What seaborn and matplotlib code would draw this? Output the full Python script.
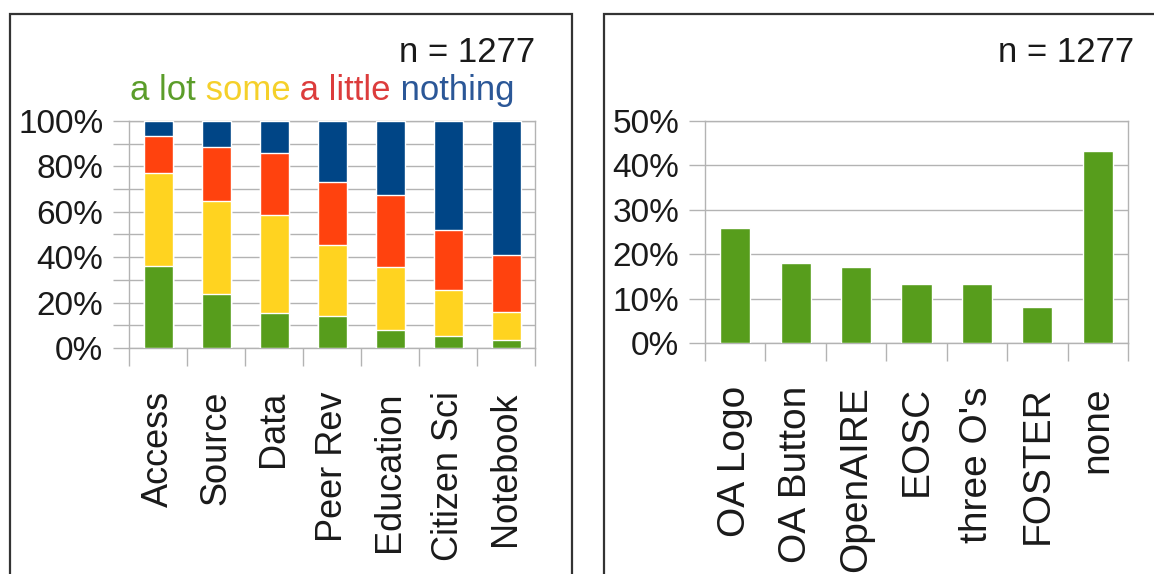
import numpy as np
import pandas as pd
import seaborn as sns
import matplotlib.pyplot as plt
from matplotlib.patches import Rectangle
from matplotlib.ticker import FixedLocator, PercentFormatter

# left chart: share of answers per topic (stacked)
topics = ["Access", "Source", "Data", "Peer Rev", "Education", "Citizen Sci", "Notebook"]
a_lot = [36.0, 23.8, 15.4, 14.2, 8.1, 5.1, 3.4]
some = [41.0, 41.0, 43.3, 31.0, 27.8, 20.3, 12.4]
a_little = [16.4, 23.9, 27.1, 28.1, 31.5, 26.6, 25.2]
nothing = [6.6, 11.3, 14.2, 26.7, 32.6, 48.0, 59.0]
answer_names = ["a lot", "some", "a little", "nothing"]

# right chart: known initiatives
initiatives = ["OA Logo", "OA Button", "OpenAIRE", "EOSC", "three O's", "FOSTER", "none"]
known = [26.0, 18.1, 17.2, 13.3, 13.3, 8.2, 43.3]

n_text = "n = 1277"

bar_colors = ["#579d1c", "#ffd320", "#ff420e", "#004586"]
word_colors = ["#5b9d2a", "#f5d02a", "#dc3c3c", "#2b5797"]
grid_col = "#b3b3b3"
txt_col = "#1a1a1a"

sns.set_style("white")
plt.rcParams["font.family"] = ["Liberation Sans", "DejaVu Sans"]
plt.rcParams["text.color"] = txt_col
plt.rcParams["xtick.labelcolor"] = txt_col
plt.rcParams["ytick.labelcolor"] = txt_col

W, H = 1154, 574
fig = plt.figure(figsize=(W / 100, H / 100), dpi=100)

ax1 = fig.add_axes([129 / W, 1 - 348 / H, 406 / W, 227 / H])
ax2 = fig.add_axes([705 / W, 1 - 343 / H, 423 / W, 222 / H])

# stacked bars: draw cumulative totals from the top segment down
df = pd.DataFrame({"topic": topics, "a lot": a_lot, "some": some,
                   "a little": a_little, "nothing": nothing})
cum = df[answer_names].cumsum(axis=1) / 100.0
for name, col in reversed(list(zip(answer_names, bar_colors))):
    sns.barplot(x=df["topic"], y=cum[name], color=col, width=0.5,
                saturation=1, ax=ax1, zorder=3)

df2 = pd.DataFrame({"initiative": initiatives, "share": np.array(known) / 100.0})
sns.barplot(data=df2, x="initiative", y="share", color=bar_colors[0], width=0.5,
            saturation=1, ax=ax2, zorder=3)


def style_axis(ax, ymax, major_step, labels_size):
    n = 7
    ax.set_xlim(-0.5, n - 0.5)
    ax.set_ylim(0, ymax)
    ax.set_xlabel("")
    ax.set_ylabel("")
    ax.yaxis.set_major_locator(FixedLocator(np.arange(0, ymax + 1e-9, major_step)))
    ax.yaxis.set_minor_locator(FixedLocator(np.arange(0, ymax + 1e-9, 0.1)))
    ax.yaxis.set_major_formatter(PercentFormatter(1.0, decimals=0))
    ax.grid(True, axis="y", which="both", color=grid_col, lw=1, zorder=0)
    ax.set_axisbelow(True)
    ax.xaxis.set_minor_locator(FixedLocator(np.arange(-0.5, n, 1.0)))
    ax.tick_params(axis="x", which="major", length=0, pad=31, labelsize=labels_size,
                   labelrotation=90)
    ax.tick_params(axis="x", which="minor", length=13, width=1, color=grid_col, direction="out")
    ax.tick_params(axis="y", which="both", length=11.5, width=1, color=grid_col,
                   direction="out", labelsize=24, pad=7)
    ax.tick_params(axis="x", which="both", bottom=True)
    ax.tick_params(axis="y", which="both", left=True)
    for s in ax.spines.values():
        s.set_color(grid_col)
        s.set_linewidth(1)


style_axis(ax1, 1.0, 0.2, 26)
style_axis(ax2, 0.5, 0.1, 28)

# panel frames
fig.add_artist(Rectangle((10 / W, -0.1), (572 - 10) / W, 1.1 - 14 / H,
                         transform=fig.transFigure, fill=False, ec="#333333", lw=1.6))
fig.add_artist(Rectangle((604 / W, -0.1), 0.5, 1.1 - 14 / H,
                         transform=fig.transFigure, fill=False, ec="#333333", lw=1.6))

fig.text(535 / W, 1 - 62 / H, n_text, ha="right", va="baseline", fontsize=25)
fig.text(1134 / W, 1 - 62 / H, n_text, ha="right", va="baseline", fontsize=25)

# coloured words acting as legend
t = fig.text(130 / W, 1 - 100 / H, answer_names[0], color=word_colors[0],
             fontsize=25, va="baseline")
for word, col in zip(answer_names[1:], word_colors[1:]):
    t = ax1.annotate(" " + word, xy=(1, 0), xycoords=t, va="bottom",
                     color=col, fontsize=25, annotation_clip=False)

fig.savefig("out.png", dpi=100)
